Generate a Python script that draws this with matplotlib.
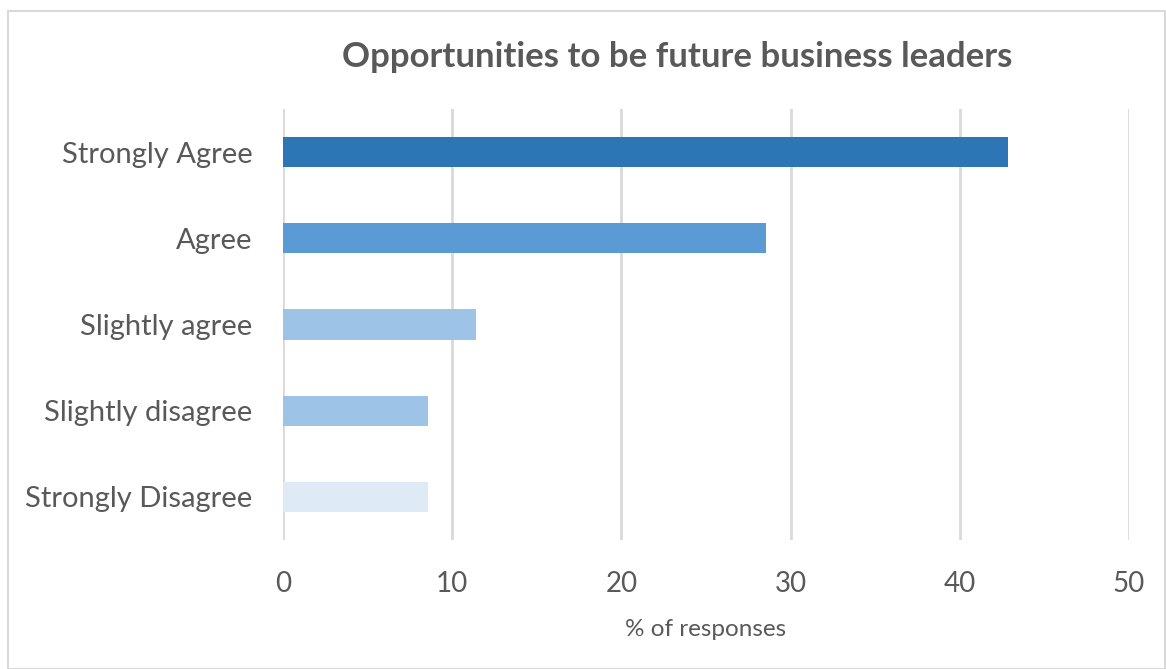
import matplotlib.pyplot as plt
from matplotlib.patches import Rectangle

# Відповіді опитування (%)
categories = ["Strongly Agree", "Agree", "Slightly agree",
              "Slightly disagree", "Strongly Disagree"]
values = [42.86, 28.57, 11.43, 8.57, 8.57]
colors = ["#2E75B6", "#5B9BD5", "#9DC3E6", "#9DC3E6", "#DEEBF7"]
xticks = [0, 10, 20, 30, 40, 50]

text_color = "#595959"
plt.rcParams["font.family"] = ["Lato", "DejaVu Sans"]

fig = plt.figure(figsize=(11.66, 6.69), dpi=100)
ax = fig.add_axes([283 / 1166, 1 - 540 / 669, 846 / 1166, 431 / 669])

y = list(range(len(categories)))
ax.barh(y, values, height=0.35, color=colors, zorder=3)

ax.set_xlim(0, 50)
ax.set_ylim(len(categories) - 0.5, -0.5)
ax.set_yticks(y)
ax.set_yticklabels(categories, fontsize=21, color=text_color)
ax.set_xticks(xticks)
ax.set_xticklabels([str(t) for t in xticks], fontsize=20, color=text_color)
ax.tick_params(axis="both", length=0)
ax.tick_params(axis="y", pad=22)
ax.tick_params(axis="x", pad=22)

ax.grid(axis="x", color="#D9D9D9", linewidth=2, zorder=0)
for s in ax.spines.values():
    s.set_visible(False)

ax.set_xlabel("% of responses", fontsize=17.5, color=text_color, labelpad=16)

fig.text(677 / 1166, 1 - 57 / 669, "Opportunities to be future business leaders",
         ha="center", va="center", fontsize=25, fontweight="bold", color=text_color)

# рамка навколо діаграми
fig.patches.append(Rectangle((8 / 1166, 0.5 / 669), 1157 / 1166, 658 / 669,
                             transform=fig.transFigure, fill=False,
                             edgecolor="#D9D9D9", linewidth=1.5))

fig.savefig("out.png", dpi=100)
